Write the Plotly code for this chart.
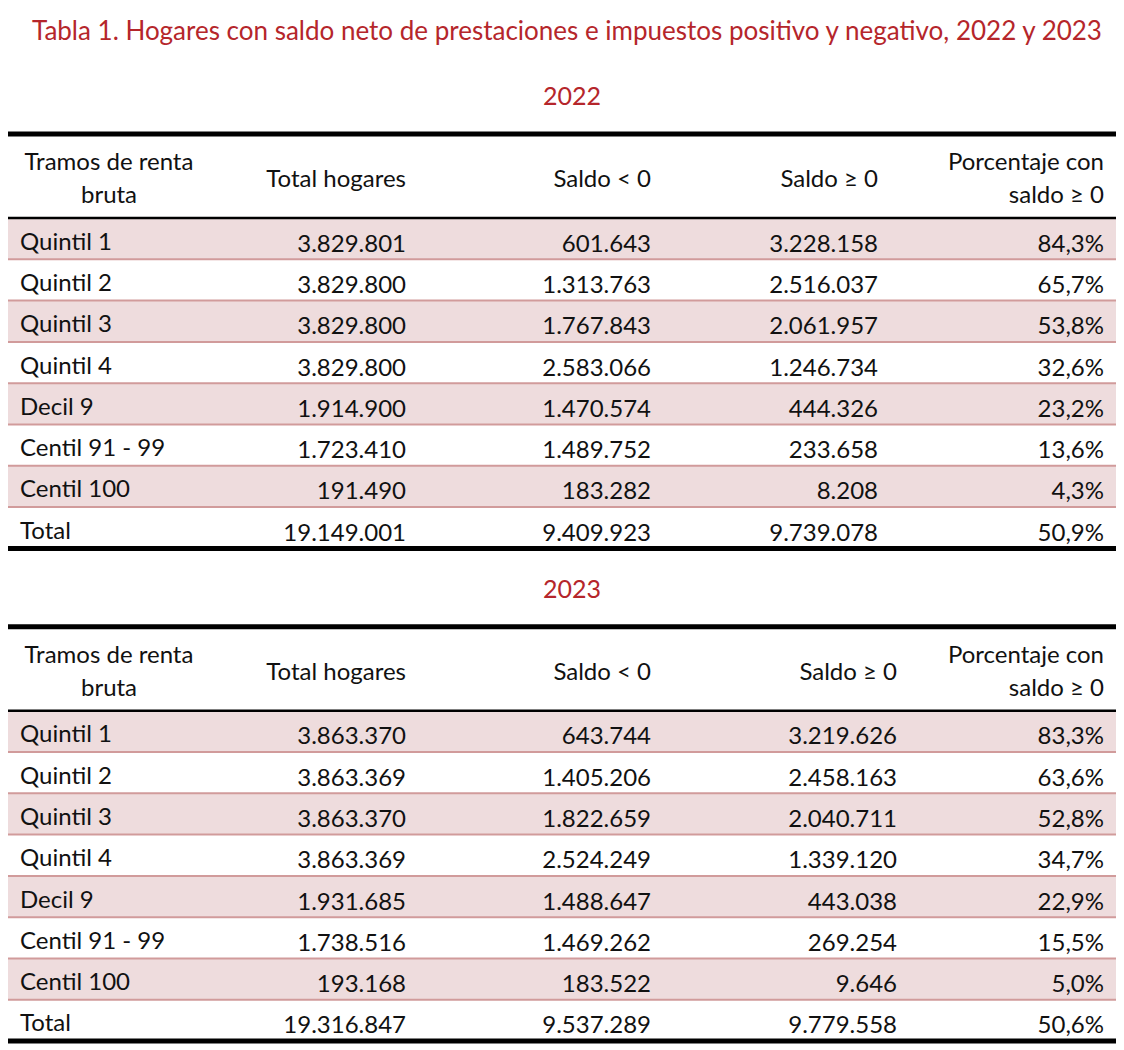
import plotly.graph_objects as go

# Datos de la tabla
tramos = ["Quintil 1", "Quintil 2", "Quintil 3", "Quintil 4", "Decil 9",
          "Centil 91 - 99", "Centil 100", "Total"]
cabecera_l1 = ["Tramos de renta", "", "", "", "Porcentaje con"]
cabecera_l2 = ["bruta", "", "", "", "saldo ≥ 0"]
cabecera_una = ["", "Total hogares", "Saldo < 0", "Saldo ≥ 0", ""]
anios = ["2022", "2023"]

total_2022 = [3829801, 3829800, 3829800, 3829800, 1914900, 1723410, 191490, 19149001]
neg_2022 = [601643, 1313763, 1767843, 2583066, 1470574, 1489752, 183282, 9409923]
pos_2022 = [3228158, 2516037, 2061957, 1246734, 444326, 233658, 8208, 9739078]
pct_2022 = [84.3, 65.7, 53.8, 32.6, 23.2, 13.6, 4.3, 50.9]

total_2023 = [3863370, 3863369, 3863370, 3863369, 1931685, 1738516, 193168, 19316847]
neg_2023 = [643744, 1405206, 1822659, 2524249, 1488647, 1469262, 183522, 9537289]
pos_2023 = [3219626, 2458163, 2040711, 1339120, 443038, 269254, 9646, 9779558]
pct_2023 = [83.3, 63.6, 52.8, 34.7, 22.9, 15.5, 5.0, 50.6]

datos = {
    "2022": [total_2022, neg_2022, pos_2022, pct_2022],
    "2023": [total_2023, neg_2023, pos_2023, pct_2023],
}

ROJO = "#B5262B"
ROSA = "#EEDCDD"
LINEA_ROSA = "#D19B9B"
NEGRO = "#111111"
FUENTE = "Lato"

W, H = 1124, 1050
PAD = 8           # margen del body de la pagina
X0, X1 = 5, 1120
# borde derecho de cada columna numerica (el 2023 tiene la 3a algo desplazada)
col_right = {"2022": [406, 651, 878, 1104], "2023": [406, 651, 897, 1104]}

top_0 = 134       # linea gruesa superior del primer bloque
head_h = 84       # alto de la cabecera
row_h = 41.3
block_gap = 492.7


def miles(v):
    return f"{v:,}".replace(",", ".")


def pct(v):
    return f"{v:.1f}%".replace(".", ",")


def texto(fig, xs, ys, txt, pos, size=24, color=NEGRO):
    fig.add_trace(go.Scatter(x=xs, y=ys, mode="text", text=txt, textposition=pos,
                             textfont=dict(family=FUENTE, size=size, color=color),
                             hoverinfo="skip", showlegend=False))


fig = go.Figure()
shapes = []

for b, anio in enumerate(anios):
    top = top_0 + b * block_gap
    head_bottom = top + head_h
    row_y = [head_bottom + (i + 0.5) * row_h for i in range(len(tramos))]
    bottom = head_bottom + len(tramos) * row_h

    # filas sombreadas
    for i in range(len(tramos) - 1):
        if i % 2 == 0:
            shapes.append(dict(type="rect", xref="x", yref="y", x0=X0, x1=X1,
                               y0=head_bottom + i * row_h, y1=head_bottom + (i + 1) * row_h,
                               fillcolor=ROSA, line_width=0, layer="below"))
    # separadores rosas
    for i in range(1, len(tramos)):
        y = head_bottom + i * row_h
        shapes.append(dict(type="line", xref="x", yref="y", x0=X0, x1=X1, y0=y, y1=y,
                           line=dict(color=LINEA_ROSA, width=2)))
    # lineas negras
    shapes.append(dict(type="line", xref="x", yref="y", x0=X0, x1=X1, y0=top, y1=top,
                       line=dict(color="black", width=5)))
    shapes.append(dict(type="line", xref="x", yref="y", x0=X0, x1=X1,
                       y0=head_bottom, y1=head_bottom, line=dict(color="black", width=2.5)))
    shapes.append(dict(type="line", xref="x", yref="y", x0=X0, x1=X1, y0=bottom, y1=bottom,
                       line=dict(color="black", width=5)))

    # año
    texto(fig, [572], [top - 35], [anio], "middle center", size=25, color=ROJO)

    # cabecera
    head_x = [109] + col_right[anio]
    head_c = top + head_h / 2
    pos_head = ["middle center"] + ["middle left"] * 4
    for k in range(5):
        if cabecera_una[k]:
            texto(fig, [head_x[k]], [head_c + 5], [cabecera_una[k]], pos_head[k])
        else:
            texto(fig, [head_x[k]], [head_c - 12], [cabecera_l1[k]], pos_head[k])
            texto(fig, [head_x[k]], [head_c + 21], [cabecera_l2[k]], pos_head[k])

    # etiquetas de filas
    texto(fig, [20] * len(tramos), [y + 5 for y in row_y], tramos, "middle right")

    # valores
    for c, serie in enumerate(datos[anio]):
        textos = [pct(v) for v in serie] if c == 3 else [miles(v) for v in serie]
        texto(fig, [col_right[anio][c]] * len(serie), [y + 7 for y in row_y],
              textos, "middle left")

fig.update_layout(
    width=W - PAD, height=H - PAD,
    margin=dict(l=0, r=0, t=0, b=0),
    paper_bgcolor="white", plot_bgcolor="white",
    xaxis=dict(range=[PAD, W], visible=False, fixedrange=True),
    yaxis=dict(range=[H, PAD], visible=False, fixedrange=True),
    shapes=shapes,
    annotations=[dict(x=567, y=30, xref="x", yref="y", showarrow=False,
                      text="Tabla 1. Hogares con saldo neto de prestaciones e impuestos positivo y negativo, 2022 y 2023",
                      font=dict(family=FUENTE, size=26, color=ROJO))],
)

fig.write_html("out.html")
